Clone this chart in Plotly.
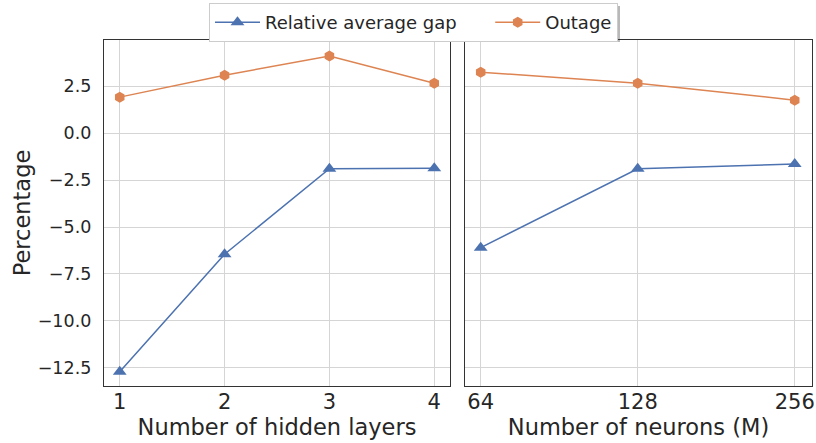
import plotly.graph_objects as go
import math

layers = [1, 2, 3, 4]
gap_layers = [-12.7, -6.45, -1.9, -1.88]
outage_layers = [1.91, 3.08, 4.1, 2.65]

neurons = [64, 128, 256]
gap_neurons = [-6.1, -1.9, -1.65]
outage_neurons = [3.24, 2.65, 1.75]

yticks = [2.5, 0.0, -2.5, -5.0, -7.5, -10.0, -12.5]

BLUE = "#4c72b0"
ORANGE = "#dd8452"
FONT = "DejaVu Sans"
NBSP = "\u00a0"

fig = go.Figure()
fig.add_trace(go.Scatter(x=layers, y=gap_layers, mode="lines+markers",
                         name="Relative average gap" + NBSP * 5,
                         line=dict(color=BLUE, width=1.5),
                         marker=dict(symbol="triangle-up", size=12, color=BLUE),
                         xaxis="x", yaxis="y"))
fig.add_trace(go.Scatter(x=layers, y=outage_layers, mode="lines+markers", name="Outage",
                         line=dict(color=ORANGE, width=1.5),
                         marker=dict(symbol="hexagon", size=11, color=ORANGE),
                         xaxis="x", yaxis="y"))
fig.add_trace(go.Scatter(x=neurons, y=gap_neurons, mode="lines+markers", showlegend=False,
                         line=dict(color=BLUE, width=1.5),
                         marker=dict(symbol="triangle-up", size=12, color=BLUE),
                         xaxis="x2", yaxis="y2"))
fig.add_trace(go.Scatter(x=neurons, y=outage_neurons, mode="lines+markers", showlegend=False,
                         line=dict(color=ORANGE, width=1.5),
                         marker=dict(symbol="hexagon", size=11, color=ORANGE),
                         xaxis="x2", yaxis="y2"))

yrange = [-13.46, 4.95]
axis_common = dict(showline=True, linecolor="#333333", linewidth=1.3, mirror=True,
                   showgrid=True, gridcolor="#d5d5d5", gridwidth=1, zeroline=False,
                   ticks="")
xtickfont = dict(size=21, color="#262626", family=FONT)
ytickfont = dict(size=17.5, color="#262626", family=FONT)

lg2 = math.log10(2)
L, R, T, B = 104, 4, 40, 57
W, H = 816, 443
pw, ph = W - L - R, H - T - B


def px(x):
    return (x - L) / pw


def py(y):
    return (H - B - y) / ph


fig.update_layout(
    width=W, height=H,
    margin=dict(l=L, r=R, t=T, b=B, autoexpand=False),
    plot_bgcolor="white", paper_bgcolor="white",
    font=dict(family=FONT, color="#262626"),
    xaxis=dict(domain=[0, 346 / pw], range=[0.85, 4.15], tickvals=layers,
               ticklabelstandoff=-3, tickfont=xtickfont,
               title=dict(text="Number of hidden layers", font=dict(size=22.5), standoff=2),
               **axis_common),
    xaxis2=dict(domain=[361 / pw, 1], type="log",
                range=[math.log10(64) - 0.1 * lg2, math.log10(256) + 0.11 * lg2],
                tickvals=neurons, ticktext=[str(n) for n in neurons],
                ticklabelstandoff=-3, tickfont=xtickfont,
                title=dict(text="Number of neurons (M)", font=dict(size=22.5), standoff=2),
                **axis_common),
    yaxis=dict(range=yrange, tickvals=yticks, tickformat=".1f", anchor="x",
               ticklabelstandoff=8, tickfont=ytickfont,
               title=dict(text="Percentage", font=dict(size=22.5), standoff=0),
               **axis_common),
    yaxis2=dict(range=yrange, tickvals=yticks, showticklabels=False, anchor="x2",
                matches="y", **axis_common),
    legend=dict(orientation="h", x=px(209), xanchor="left", y=py(3), yanchor="top",
                bgcolor="white", bordercolor="#cccccc", borderwidth=1,
                font=dict(size=18, color="#262626", family=FONT),
                itemwidth=45),
    shapes=[dict(type="rect", xref="paper", yref="paper",
                 x0=px(212), x1=px(620), y0=py(42), y1=py(6),
                 fillcolor="#b8b8b8", line=dict(width=0), layer="below")],
)

fig.write_html("out.html", config={"displayModeBar": False},
               post_script="document.body.style.margin='0px';")
